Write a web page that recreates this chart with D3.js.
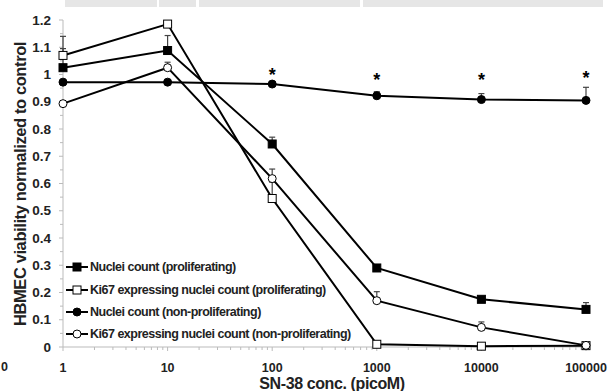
<!DOCTYPE html>
<html><head><meta charset="utf-8">
<script src="https://cdn.jsdelivr.net/npm/d3@7"></script>
<style>
body{margin:0;background:#fff;}
svg{display:block;font-family:"Liberation Sans",Arial,sans-serif;font-weight:bold;}
</style></head><body>
<svg id="c" width="609" height="391"></svg>
<script>
const concentrations = [1, 10, 100, 1000, 10000, 100000];
const xTickLabels = ["1", "10", "100", "1000", "10000", "100000"];
const yTicks = [0, 0.1, 0.2, 0.3, 0.4, 0.5, 0.6, 0.7, 0.8, 0.9, 1, 1.1, 1.2];
const seriesNames = [
  "Nuclei count (proliferating)",
  "Ki67 expressing nuclei count (proliferating)",
  "Nuclei count (non-proliferating)",
  "Ki67 expressing nuclei count (non-proliferating)"
];
const nucleiProlif = [1.025, 1.088, 0.745, 0.29, 0.175, 0.138];
const nucleiProlifErr = [0.07, 0.055, 0.025, 0.0, 0.01, 0.025];
const ki67Prolif = [1.07, 1.185, 0.545, 0.01, 0.003, 0.005];
const ki67ProlifErr = [0.07, 0.0, 0.06, 0.0, 0.0, 0.0];
const nucleiNon = [0.972, 0.972, 0.965, 0.922, 0.908, 0.905];
const nucleiNonErr = [0.0, 0.0, 0.0, 0.015, 0.022, 0.048];
const ki67Non = [0.893, 1.025, 0.618, 0.17, 0.072, 0.006];
const ki67NonErr = [0.0, 0.02, 0.035, 0.033, 0.02, 0.0];
const significant = [false, false, true, true, true, true];
const markers = ["square-filled", "square-open", "circle-filled", "circle-open"];

const svg = d3.select("#c");
const x = d3.scaleLog().domain([1, 100000]).range([63, 586]);
const y = d3.scaleLinear().domain([0, 1.2]).range([347, 20]);

// top gray strip (cropped table remnant)
const strip = [[65,157],[159,196],[199,360],[363,603]];
svg.selectAll("rect.strip").data(strip).enter().append("rect")
  .attr("x", d => d[0]).attr("y", 0).attr("width", d => d[1]-d[0]).attr("height", 7)
  .attr("fill", "#e6e6e6");

// y axis
const yAxis = svg.append("g").attr("transform", "translate(63,0)");
yAxis.append("line").attr("x1",0).attr("x2",0).attr("y1",y(1.2)).attr("y2",y(0)).attr("stroke","#bbb");
const yMinor = d3.range(0, 1.201, 0.05);
yAxis.selectAll("line.t").data(yMinor).enter().append("line")
  .attr("x1", (d,i) => i%2===0 ? -4 : -3).attr("x2", 0)
  .attr("y1", d => y(d)).attr("y2", d => y(d)).attr("stroke", "#bbb");
yAxis.selectAll("text").data(yTicks).enter().append("text")
  .attr("x", -12).attr("y", d => y(d)).attr("dy", "0.35em")
  .attr("text-anchor", "end").attr("font-size", 13.5).attr("fill", "#222")
  .text(d => d3.format("~g")(d));

// x axis
const xAxis = svg.append("g");
xAxis.append("line").attr("x1", x(1)).attr("x2", x(100000)).attr("y1", y(0)).attr("y2", y(0)).attr("stroke","#bbb");
const minor = [];
for (let e = 0; e < 5; e++) for (let m = 1; m <= 9; m++) minor.push(m*Math.pow(10,e));
minor.push(100000);
xAxis.selectAll("line.t").data(minor).enter().append("line")
  .attr("x1", d => x(d)).attr("x2", d => x(d))
  .attr("y1", y(0)).attr("y2", d => y(0) + (Math.log10(d)%1===0 ? 4 : 3))
  .attr("stroke", "#bbb");
xAxis.selectAll("text").data(concentrations).enter().append("text")
  .attr("x", d => x(d)).attr("y", 372).attr("text-anchor", "middle")
  .attr("font-size", 12.5).attr("fill", "#222")
  .text((d,i) => xTickLabels[i]);

// stray cropped label at left
svg.append("text").attr("x", 1).attr("y", 371).attr("font-size", 12.5).attr("fill","#222").text("0");

// titles
svg.append("text").attr("x", 332).attr("y", 389).attr("text-anchor","middle")
  .attr("font-size", 16).attr("fill","#222").attr("letter-spacing", -0.4).text("SN-38 conc. (picoM)");
svg.append("text").attr("transform", "translate(26,184) rotate(-90)").attr("text-anchor","middle")
  .attr("font-size", 16.5).attr("fill","#222").attr("letter-spacing", -0.4).text("HBMEC viability normalized to control");

const allSeries = [
  {vals: nucleiProlif, err: nucleiProlifErr, m: markers[0], name: seriesNames[0]},
  {vals: ki67Prolif, err: ki67ProlifErr, m: markers[1], name: seriesNames[1]},
  {vals: nucleiNon, err: nucleiNonErr, m: markers[2], name: seriesNames[2]},
  {vals: ki67Non, err: ki67NonErr, m: markers[3], name: seriesNames[3]}
];

const line = d3.line().x((d,i) => x(concentrations[i])).y(d => y(d));

function drawMarker(g, type, cx, cy) {
  const filled = type.endsWith("filled");
  if (type.startsWith("square")) {
    g.append("rect").attr("x", cx-4).attr("y", cy-4).attr("width", 8).attr("height", 8)
      .attr("fill", filled ? "#000" : "#fff").attr("stroke", "#000").attr("stroke-width", 1);
  } else {
    g.append("circle").attr("cx", cx).attr("cy", cy).attr("r", 4)
      .attr("fill", filled ? "#000" : "#fff").attr("stroke", "#000").attr("stroke-width", 1);
  }
}

// error bars
allSeries.forEach(s => {
  s.vals.forEach((v,i) => {
    if (s.err[i] > 0) {
      const cx = x(concentrations[i]);
      svg.append("line").attr("x1", cx).attr("x2", cx).attr("y1", y(v)).attr("y2", y(v + s.err[i]))
        .attr("stroke", "#444").attr("stroke-width", 1.2);
      svg.append("line").attr("x1", cx-3).attr("x2", cx+3).attr("y1", y(v + s.err[i])).attr("y2", y(v + s.err[i]))
        .attr("stroke", "#444").attr("stroke-width", 1.2);
    }
  });
});

// lines
allSeries.forEach(s => {
  svg.append("path").datum(s.vals).attr("d", line).attr("fill","none")
    .attr("stroke","#000").attr("stroke-width", 2);
});
// markers
allSeries.forEach(s => {
  const g = svg.append("g");
  s.vals.forEach((v,i) => drawMarker(g, s.m, x(concentrations[i]), y(v)));
});

// significance stars
concentrations.forEach((c,i) => {
  if (significant[i]) {
    const top = nucleiNon[i] + nucleiNonErr[i];
    svg.append("text").attr("x", x(c)).attr("y", Math.min(y(top) - 3, 86)).attr("text-anchor","middle")
      .attr("font-size", 18).attr("fill","#000").text("*");
  }
});

// legend
const leg = svg.append("g");
const legY = [267, 290, 312, 334];
allSeries.forEach((s,i) => {
  const ly = legY[i];
  leg.append("line").attr("x1", 66).attr("x2", 88).attr("y1", ly).attr("y2", ly)
    .attr("stroke","#000").attr("stroke-width", 2);
  drawMarker(leg, s.m, 77, ly);
  leg.append("text").attr("x", 90).attr("y", ly).attr("dy","0.35em")
    .attr("font-size", 12.5).attr("fill","#222").attr("letter-spacing", -0.5).text(s.name);
});
</script>
</body></html>
